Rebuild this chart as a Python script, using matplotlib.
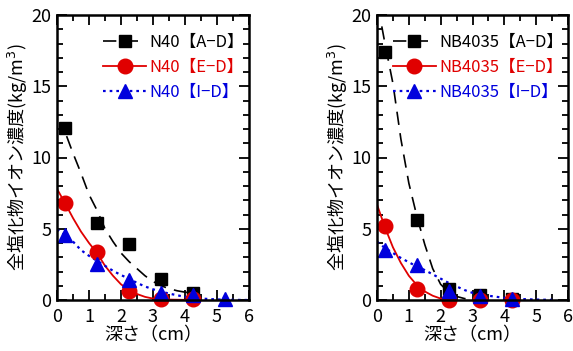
import matplotlib
matplotlib.use("Agg")
import matplotlib.pyplot as plt
from matplotlib.lines import Line2D
from matplotlib.ticker import MultipleLocator

plt.rcParams['font.family'] = ['Noto Sans CJK JP', 'DejaVu Sans']

# measured points (depth cm, chloride kg/m3)
depth = [0.25, 1.25, 2.25, 3.25, 4.25]
depth_i = [0.25, 1.25, 2.25, 3.25, 4.25, 5.25]

n40_ad = [12.1, 5.4, 3.95, 1.45, 0.5]
n40_ed = [6.8, 3.35, 0.6, 0.05, 0.05]
n40_id = [4.55, 2.55, 1.4, 0.5, 0.35, 0.05]

nb_ad = [17.4, 5.6, 0.75, 0.35, 0.05]
nb_ed = [5.2, 0.75, 0.02, 0.02, 0.02]
nb_id = [3.5, 2.45, 0.65, 0.3, 0.08]

# fitted curves
n40_ad_cx = [0.3, 0.5, 0.75, 1.0, 1.25, 1.5, 1.75, 2.0, 2.25, 2.5, 2.75, 3.0, 3.25, 3.5, 3.75, 4.0, 4.2]
n40_ad_cy = [11.5, 10.3, 8.9, 7.4, 6.3, 5.0, 4.1, 3.3, 2.7, 2.2, 1.7, 1.3, 1.0, 0.8, 0.65, 0.55, 0.5]
n40_ed_cx = [0.0, 0.25, 0.5, 0.75, 1.0, 1.25, 1.5, 1.75, 2.0, 2.25, 2.5, 2.75, 3.0, 3.5, 4.0, 4.25]
n40_ed_cy = [7.8, 6.8, 5.75, 4.8, 4.0, 3.3, 2.4, 1.7, 1.1, 0.7, 0.42, 0.22, 0.1, 0.03, 0.01, 0.0]
n40_id_cx = [0.0, 0.25, 0.5, 0.75, 1.0, 1.25, 1.5, 1.75, 2.0, 2.25, 2.5, 2.75, 3.0, 3.5, 4.0, 4.5, 5.0, 5.5, 6.0]
n40_id_cy = [4.95, 4.55, 4.1, 3.5, 3.1, 2.75, 2.4, 2.05, 1.75, 1.5, 1.2, 0.95, 0.75, 0.45, 0.22, 0.1, 0.04, 0.01, 0.0]

nb_ad_cx = [0.15, 0.25, 0.5, 0.75, 1.0, 1.25, 1.5, 1.75, 2.0, 2.25, 2.5, 2.75, 3.0, 3.25]
nb_ad_cy = [19.2, 18.0, 15.2, 11.3, 8.2, 5.9, 3.9, 2.2, 1.1, 0.55, 0.25, 0.1, 0.04, 0.01]
nb_ed_cx = [0.0, 0.25, 0.5, 0.75, 1.0, 1.25, 1.5, 1.75, 2.0, 2.25]
nb_ed_cy = [6.7, 5.1, 3.7, 2.6, 1.7, 1.05, 0.6, 0.3, 0.1, 0.0]
nb_id_cx = [0.0, 0.25, 0.5, 0.75, 1.0, 1.25, 1.5, 1.75, 2.0, 2.25, 2.5, 2.75, 3.0, 3.5, 4.0, 4.5, 5.0, 5.5]
nb_id_cy = [4.1, 3.65, 3.3, 2.95, 2.65, 2.35, 2.1, 1.8, 1.5, 1.2, 0.95, 0.7, 0.5, 0.3, 0.15, 0.07, 0.03, 0.01]

RED = '#e00000'
BLUE = '#0000dd'
dash = (0, (8, 5))
dot = (0, (1.2, 1.8))

fig = plt.figure(figsize=(5.73, 3.51), dpi=100)
ax1 = fig.add_axes([57/573, 51/351, 192/573, 285/351])
ax2 = fig.add_axes([377/573, 51/351, 191/573, 285/351])

panels = [
    (ax1, 'N40', depth, depth, depth_i, n40_ad, n40_ed, n40_id,
     (n40_ad_cx, n40_ad_cy), (n40_ed_cx, n40_ed_cy), (n40_id_cx, n40_id_cy)),
    (ax2, 'NB4035', depth, depth, depth, nb_ad, nb_ed, nb_id,
     (nb_ad_cx, nb_ad_cy), (nb_ed_cx, nb_ed_cy), (nb_id_cx, nb_id_cy)),
]

for ax, name, xa, xe, xi, ad, ed, idd, cad, ced, cid in panels:
    ax.plot(cad[0], cad[1], color='black', lw=1.2, ls=dash)
    ax.plot(ced[0], ced[1], color=RED, lw=1.3)
    ax.plot(cid[0], cid[1], color=BLUE, lw=1.6, ls=dot)
    ax.plot(xa, ad, 's', color='black', ms=9, clip_on=False)
    ax.plot(xe, ed, 'o', color=RED, ms=10.5, clip_on=False)
    ax.plot(xi, idd, '^', color=BLUE, ms=9.5, clip_on=False)

    handles = [
        Line2D([], [], color='black', lw=1.2, ls=dash, marker='s', ms=9),
        Line2D([], [], color=RED, lw=1.3, marker='o', ms=10.5),
        Line2D([], [], color=BLUE, lw=1.6, ls=dot, marker='^', ms=9.5),
    ]
    labels = [name + '【A−D】', name + '【E−D】', name + '【I−D】']
    ax.legend(handles, labels, loc='upper right', bbox_to_anchor=(0.975, 0.935),
              frameon=False, fontsize=12, handlelength=2.6, handletextpad=0.2,
              labelspacing=0.5, borderaxespad=0, borderpad=0, labelcolor='linecolor')

    ax.set_xlim(0, 6)
    ax.set_ylim(0, 20)
    ax.xaxis.set_major_locator(MultipleLocator(1))
    ax.xaxis.set_minor_locator(MultipleLocator(0.5))
    ax.yaxis.set_major_locator(MultipleLocator(5))
    ax.yaxis.set_minor_locator(MultipleLocator(1))
    ax.tick_params(which='both', direction='in', top=True, right=True, width=1.3)
    ax.tick_params(which='major', length=7, labelsize=13)
    ax.tick_params(axis='x', which='major', pad=6)
    ax.tick_params(axis='y', which='major', pad=4)
    ax.tick_params(which='minor', length=4)
    for s in ax.spines.values():
        s.set_linewidth(1.8)
    ax.set_xlabel('深さ（cm）', fontsize=13, labelpad=0)
    ax.set_ylabel('全塩化物イオン濃度(kg/m$^3$)', fontsize=13, labelpad=1)

fig.savefig('out.png', dpi=100)
